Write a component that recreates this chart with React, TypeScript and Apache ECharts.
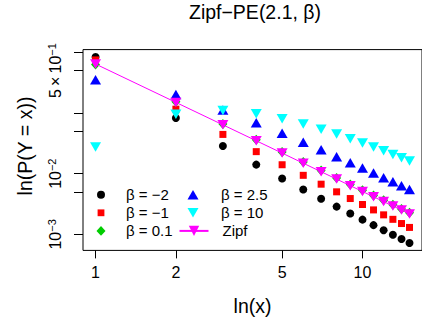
import React, { useEffect, useRef } from 'react';
import * as echarts from 'echarts';

const xValues = [1, 2, 3, 4, 5, 6, 7, 8, 9, 10, 11, 12, 13, 14, 15];
const betaMinus2 = [0.8355, 0.08297, 0.02852, 0.01411, 0.008347, 0.005485, 0.003869, 0.002868, 0.002207, 0.001749, 0.001419, 0.001173, 0.000984, 0.000838, 0.000722];
const betaMinus1 = [0.7486, 0.1157, 0.04436, 0.02308, 0.01404, 0.009397, 0.006714, 0.005024, 0.003895, 0.003104, 0.00253, 0.002098, 0.00177, 0.001509, 0.001302];
const beta01 = [0.6294, 0.1527, 0.06587, 0.03618, 0.02271, 0.01551, 0.01124, 0.008498, 0.006641, 0.005326, 0.004363, 0.003635, 0.003074, 0.002631, 0.002277];
const beta25 = [0.3545, 0.2012, 0.1116, 0.06894, 0.04631, 0.03306, 0.0247, 0.0191, 0.01519, 0.01235, 0.01023, 0.008601, 0.007331, 0.006316, 0.005496];
const beta10 = [0.02754, 0.09541, 0.1098, 0.09714, 0.0805, 0.06587, 0.05416, 0.04496, 0.03774, 0.03203, 0.02747, 0.02377, 0.02075, 0.01824, 0.01616];
const zipf = [0.6409, 0.1495, 0.06381, 0.03487, 0.02183, 0.01488, 0.01077, 0.008135, 0.006353, 0.005092, 0.00417, 0.003472, 0.002936, 0.002512, 0.002173];

const seriesNames = ['β = −2', 'β = −1', 'β = 0.1', 'β = 2.5', 'β = 10', 'Zipf'];
const xTickValues = [1, 2, 5, 10];
const xLabelValues = [1, 2, 5, 10];
const yTickValues = [0.001, 0.005, 0.01, 0.05, 0.1, 0.5, 1];
const yLabelValues = [0.001, 0.01, 0.5];
const yLabelTexts = ['{b|10}{s|−3}', '{b|10}{s|−2}', '{b|5\u2009×\u200910}{s|−1}'];

const FONT = 'Liberation Sans, Arial, Helvetica, sans-serif';

const ICON_CIRCLE = 'path://M0 0M14 14M3 7A4 4 0 1 1 11 7A4 4 0 1 1 3 7Z';
const ICON_SQUARE = 'path://M0 0M14 14M3.6 3.6L10.4 3.6L10.4 10.4L3.6 10.4Z';
const ICON_DIAMOND = 'path://M0 0M14 14M7 2.2L11.5 7L7 11.8L2.5 7Z';
const ICON_UP = 'path://M0 0M14 14M7 2.3L12.5 11.7L1.5 11.7Z';
const ICON_DOWN = 'path://M0 0M14 14M1.5 2.3L12.5 2.3L7 11.7Z';

function pairs(vals: number[]) {
  return xValues.map((x, i) => [x, vals[i]]);
}

export default function App() {
  const ref = useRef<HTMLDivElement>(null);
  useEffect(() => {
    const chart = echarts.init(ref.current!, null, { renderer: 'svg' });
    const legendText = { fontFamily: FONT, fontSize: 15, color: '#000', lineHeight: 18 };
    chart.setOption({
      animation: false,
      textStyle: { fontFamily: FONT },
      title: {
        text: 'Zipf\u2212PE(2.1, β)',
        left: 255,
        top: 2,
        padding: 0,
        textAlign: 'center',
        textStyle: { fontFamily: FONT, fontSize: 19.5, fontWeight: 'normal', color: '#000' },
      },
      grid: {
        left: 83,
        right: -5.2,
        top: 49.6,
        bottom: 76.6,
        show: true,
        borderColor: '#000',
        borderWidth: 1,
        backgroundColor: 'transparent',
        containLabel: false,
      },
      xAxis: {
        type: 'log',
        logBase: 10,
        min: 0.8975,
        max: 16.71,
        name: 'ln(x)',
        nameLocation: 'middle',
        nameGap: 46,
        nameTextStyle: { fontFamily: FONT, fontSize: 19.5, color: '#000' },
        axisLine: { show: false },
        axisTick: { show: true, length: 8, lineStyle: { color: '#000', width: 1 }, customValues: xTickValues },
        axisLabel: {
          show: true,
          margin: 14,
          fontFamily: FONT,
          fontSize: 16,
          color: '#000',
          customValues: xLabelValues,
          formatter: (v: number) => String(Math.round(v)),
        },
        splitLine: { show: false },
        minorTick: { show: false },
      },
      yAxis: {
        type: 'log',
        logBase: 10,
        min: 0.0005445,
        max: 1.1078,
        name: 'ln(P(Y = x))',
        nameLocation: 'middle',
        nameGap: 48,
        nameRotate: 90,
        nameTextStyle: { fontFamily: FONT, fontSize: 19.5, color: '#000', padding: [0, 0, 0, 8] },
        axisLine: { show: false },
        axisTick: { show: true, length: 9, lineStyle: { color: '#000', width: 1 }, customValues: yTickValues },
        axisLabel: {
          show: true,
          rotate: 90,
          margin: 19,
          color: '#000',
          customValues: yLabelValues,
          formatter: (v: number) => {
            let best = 0;
            for (let i = 0; i < yLabelValues.length; i++) {
              if (Math.abs(Math.log10(yLabelValues[i]) - Math.log10(v)) < Math.abs(Math.log10(yLabelValues[best]) - Math.log10(v))) best = i;
            }
            return yLabelTexts[best];
          },
          rich: {
            b: { fontFamily: FONT, fontSize: 16, color: '#000', lineHeight: 18 },
            s: { fontFamily: FONT, fontSize: 11, color: '#000', verticalAlign: 'top', lineHeight: 11 },
          },
        },
        splitLine: { show: false },
        minorTick: { show: false },
      },
      legend: [
        {
          orient: 'vertical',
          left: 94,
          top: 185.7,
          padding: 0,
          itemGap: 0.1,
          itemWidth: 14,
          itemHeight: 14,
          textStyle: { ...legendText, padding: [0, 0, 0, 13] },
          data: [
            { name: seriesNames[0], icon: ICON_CIRCLE },
            { name: seriesNames[1], icon: ICON_SQUARE },
            { name: seriesNames[2], icon: ICON_DIAMOND },
          ],
        },
        {
          orient: 'vertical',
          left: 186,
          top: 185.7,
          padding: 0,
          itemGap: 0.1,
          itemWidth: 14,
          itemHeight: 14,
          textStyle: { ...legendText, padding: [0, 0, 0, 16] },
          data: [
            { name: seriesNames[3], icon: ICON_UP },
            { name: seriesNames[4], icon: ICON_DOWN },
          ],
        },
        {
          orient: 'vertical',
          left: 178.5,
          top: 221.9,
          padding: 0,
          itemGap: 0,
          itemWidth: 29,
          itemHeight: 13,
          textStyle: { ...legendText, padding: [0, 0, 0, 9] },
          data: [seriesNames[5]],
        },
      ],
      series: [
        { type: 'scatter', name: seriesNames[0], data: pairs(betaMinus2), symbol: 'circle', symbolSize: 8, itemStyle: { color: '#000000', opacity: 1 } },
        { type: 'scatter', name: seriesNames[1], data: pairs(betaMinus1), symbol: 'rect', symbolSize: 7, itemStyle: { color: '#FF0000', opacity: 1 } },
        { type: 'scatter', name: seriesNames[2], data: pairs(beta01), symbol: 'diamond', symbolSize: [9, 10], itemStyle: { color: '#00CD00', opacity: 1 } },
        { type: 'scatter', name: seriesNames[3], data: pairs(beta25), symbol: 'triangle', symbolSize: [11, 9.5], itemStyle: { color: '#0000FF', opacity: 1 } },
        { type: 'scatter', name: seriesNames[4], data: pairs(beta10), symbol: 'triangle', symbolRotate: 180, symbolSize: [11, 9.5], itemStyle: { color: '#00FFFF', opacity: 1 } },
        {
          type: 'line',
          name: seriesNames[5],
          data: pairs(zipf),
          symbol: 'triangle',
          symbolRotate: 180,
          symbolSize: [11, 9.5],
          showSymbol: true,
          itemStyle: { color: '#FF00FF', opacity: 1 },
          lineStyle: { color: '#FF00FF', width: 1 },
        },
      ],
    });
    return () => chart.dispose();
  }, []);
  return <div ref={ref} style={{ position: 'absolute', left: 0, top: 0, width: 422, height: 327 }} />;
}
